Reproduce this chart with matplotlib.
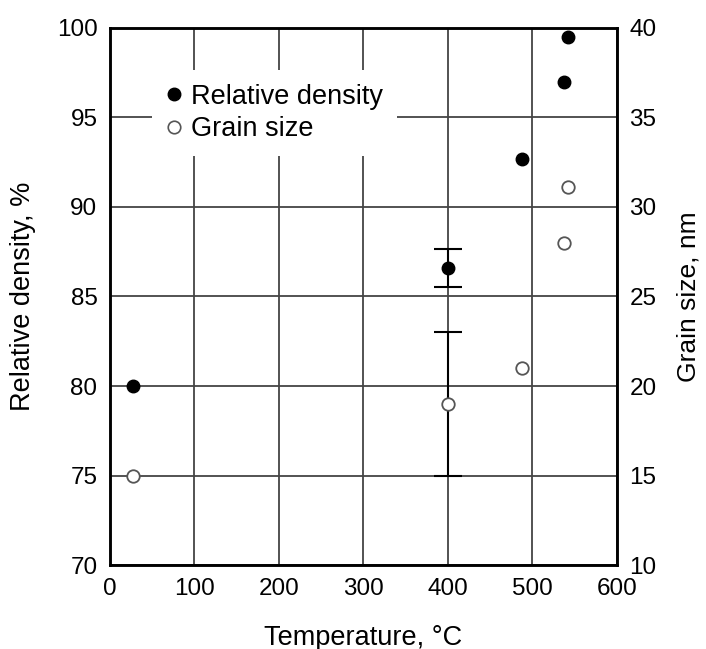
import matplotlib.pyplot as plt
from matplotlib.lines import Line2D

plt.rcParams['font.family'] = ['Liberation Sans', 'DejaVu Sans']

# data
dens_temp = [27, 400, 488, 537, 542]
dens_val = [80.0, 86.6, 92.7, 97.0, 99.5]

grain_temp = [27, 400, 488, 537, 542]
grain_val = [15.0, 19.0, 21.0, 28.0, 31.1]

# only the 400 C points carry error bars
err_temp = 400
dens_err = 1.05
grain_err = 4.0
dens_at_err = 86.6
grain_at_err = 19.0

fig = plt.figure(figsize=(7.06, 6.49), dpi=100)
ax = fig.add_axes([0.1558, 0.1294, 0.7181, 0.8275])
ax2 = ax.twinx()

ax.set_xlim(0, 600)
ax.set_ylim(70, 100)
ax2.set_ylim(10, 40)
ax.set_xticks(range(0, 601, 100))
ax.set_yticks(range(70, 101, 5))
ax2.set_yticks(range(10, 41, 5))
ax.grid(True, color='#444444', linewidth=1.3)
ax.set_axisbelow(True)
for a in (ax, ax2):
    for s in a.spines.values():
        s.set_linewidth(1.8)
    a.tick_params(length=0, labelsize=17.5, pad=9)

# density
ax.errorbar([err_temp], [dens_at_err], yerr=[dens_err], fmt='none', ecolor='black',
            elinewidth=1.5, capsize=10, capthick=1.5, zorder=3)
ax.plot(dens_temp, dens_val, 'o', color='black', ms=9, zorder=4)

# grain size
ax2.errorbar([err_temp], [grain_at_err], yerr=[grain_err], fmt='none', ecolor='black',
             elinewidth=1.5, capsize=10, capthick=1.5, zorder=3)
ax2.plot(grain_temp, grain_val, 'o', mfc='white', mec='#555555', mew=1.3,
         ms=9, zorder=4)

ax.set_xlabel('Temperature, °C', fontsize=19.5, labelpad=18)
ax.set_ylabel('Relative density, %', fontsize=19.5, labelpad=15)
ax2.set_ylabel('Grain size, nm', fontsize=19, labelpad=14)

handles = [
    Line2D([], [], ls='none', marker='o', color='black', ms=9),
    Line2D([], [], ls='none', marker='o', mfc='white', mec='#555555', mew=1.2, ms=9),
]
leg = ax2.legend(handles, ['Relative density', 'Grain size'], loc='upper left',
                 bbox_to_anchor=(0.083, 0.921), fontsize=19.5, frameon=True,
                 handlelength=0.6, handletextpad=0.35, labelspacing=0.24,
                 borderpad=0.5, borderaxespad=0, fancybox=False)
leg.get_frame().set_edgecolor('none')
leg.get_frame().set_facecolor('white')
leg.get_frame().set_alpha(1)

fig.savefig('out.png', dpi=100)
